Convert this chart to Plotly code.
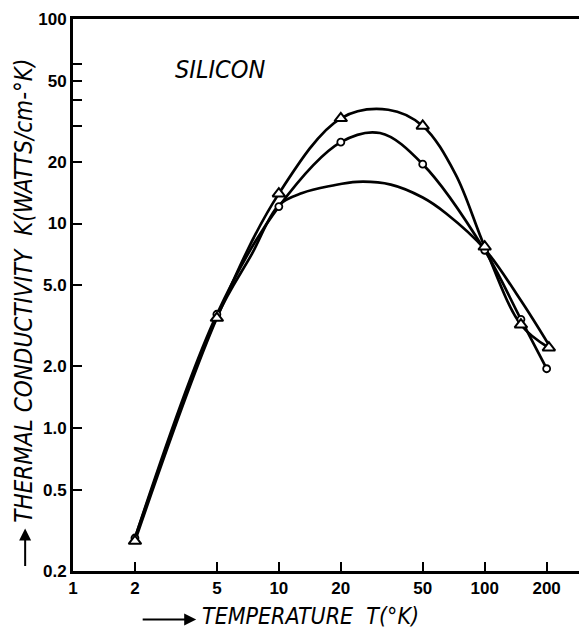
import plotly.graph_objects as go
import numpy as np

# ---- data ----
# measured points (triangles)
T_tri = [2, 5, 10, 20, 50, 100, 150, 205]
K_tri = [0.28, 3.45, 14.0, 32.7, 30.0, 7.7, 3.2, 2.47]
# measured points (circles)
T_circ = [2, 5, 10, 20, 50, 100, 150, 200]
K_circ = [0.29, 3.6, 12.1, 25.0, 19.5, 7.4, 3.4, 1.95]

# drawn curves
T_tri_curve = [2, 5, 10, 20, 34, 50, 72, 100, 150, 205]
K_tri_curve = [0.28, 3.45, 14.0, 32.7, 36.0, 30.0, 17.5, 7.7, 3.2, 2.47]
T_circ_curve = [2, 5, 10, 20, 31, 50, 100, 150, 200]
K_circ_curve = [0.29, 3.6, 12.1, 25.0, 27.7, 19.5, 7.4, 3.4, 1.95]
T_plain_curve = [2, 5, 7.4, 10, 13, 18, 24, 35, 50, 65, 100, 150, 205]
K_plain_curve = [0.29, 3.5, 7.1, 12.3, 14.1, 15.3, 16.0, 15.5, 13.4, 11.2, 7.5, 4.2, 2.55]

x_tickvals = [1, 2, 5, 10, 20, 50, 100, 200]
x_ticktext = ["1", "2", "5", "10", "20", "50", "100", "200"]
y_tickvals = [0.2, 0.5, 1, 2, 5, 10, 20, 30, 40, 50, 60, 100]
y_ticktext = ["0.2", "0.5", "1.0", "2.0", "5.0", "10", "20", "", "", "50", "", "100"]

LINE = dict(color="black", width=2.7)
fig = go.Figure()
for tx, ky in [(T_plain_curve, K_plain_curve), (T_circ_curve, K_circ_curve), (T_tri_curve, K_tri_curve)]:
    fig.add_trace(go.Scatter(x=tx, y=ky, mode="lines", line=dict(shape="spline", smoothing=1.0, **LINE),
                             showlegend=False, hoverinfo="skip"))
fig.add_trace(go.Scatter(x=T_circ, y=K_circ, mode="markers",
                         marker=dict(symbol="circle", size=7, color="white", line=dict(color="black", width=1.8)),
                         showlegend=False))
fig.add_trace(go.Scatter(x=T_tri, y=K_tri, mode="markers",
                         marker=dict(symbol="triangle-up", size=11, color="white", line=dict(color="black", width=2)),
                         showlegend=False))

tickfont = dict(family="Liberation Sans, Arial, sans-serif", size=17, color="black", weight="bold")
titlefont = dict(family="Liberation Sans Narrow, DejaVu Sans Condensed, Liberation Sans, sans-serif",
                 size=24, color="black", style="italic")

fig.update_xaxes(type="log", range=[0, np.log10(297)], tickvals=x_tickvals, ticktext=x_ticktext,
                 ticks="inside", ticklen=9, tickwidth=2, tickcolor="black",
                 showline=True, linewidth=3, linecolor="black", mirror=True,
                 showgrid=False, zeroline=False, tickfont=tickfont, ticklabeloverflow="allow")
fig.update_yaxes(type="log", range=[np.log10(0.2), 2], tickvals=y_tickvals, ticktext=y_ticktext,
                 ticks="inside", ticklen=9, tickwidth=2, tickcolor="black",
                 showline=True, linewidth=3, linecolor="black", mirror=True,
                 showgrid=False, zeroline=False, tickfont=tickfont, ticklabeloverflow="allow")

annotations = [
    dict(text="THERMAL CONDUCTIVITY  K(WATTS/cm-°K)", xref="paper", yref="paper", x=-0.098, y=0.508,
         textangle=-90, showarrow=False, font=titlefont, xanchor="center", yanchor="middle"),
    dict(text="TEMPERATURE  T(°K)", xref="paper", yref="paper", x=0.467, y=-0.108,
         showarrow=False, font=dict(titlefont, size=23), xanchor="center", yanchor="bottom"),
    dict(text="SILICON", xref="paper", yref="paper", x=0.289, y=0.908,
         showarrow=False, font=dict(titlefont, size=25), xanchor="center", yanchor="middle"),
    dict(text="", xref="paper", yref="paper", x=0.242, y=-0.088, ax=-55, ay=0,
         showarrow=True, arrowhead=2, arrowsize=1.2, arrowwidth=2, arrowcolor="black"),
    dict(text="", xref="paper", yref="paper", x=-0.094, y=0.077, ax=0, ay=39,
         showarrow=True, arrowhead=2, arrowsize=1.2, arrowwidth=2, arrowcolor="black"),
]

# the page body adds an 8px offset, so the figure is sized to fit the window
fig.update_layout(width=579, height=625, margin=dict(l=65, r=2, t=6, b=62),
                  plot_bgcolor="white", paper_bgcolor="white", annotations=annotations)

fig.write_html("out.html")
